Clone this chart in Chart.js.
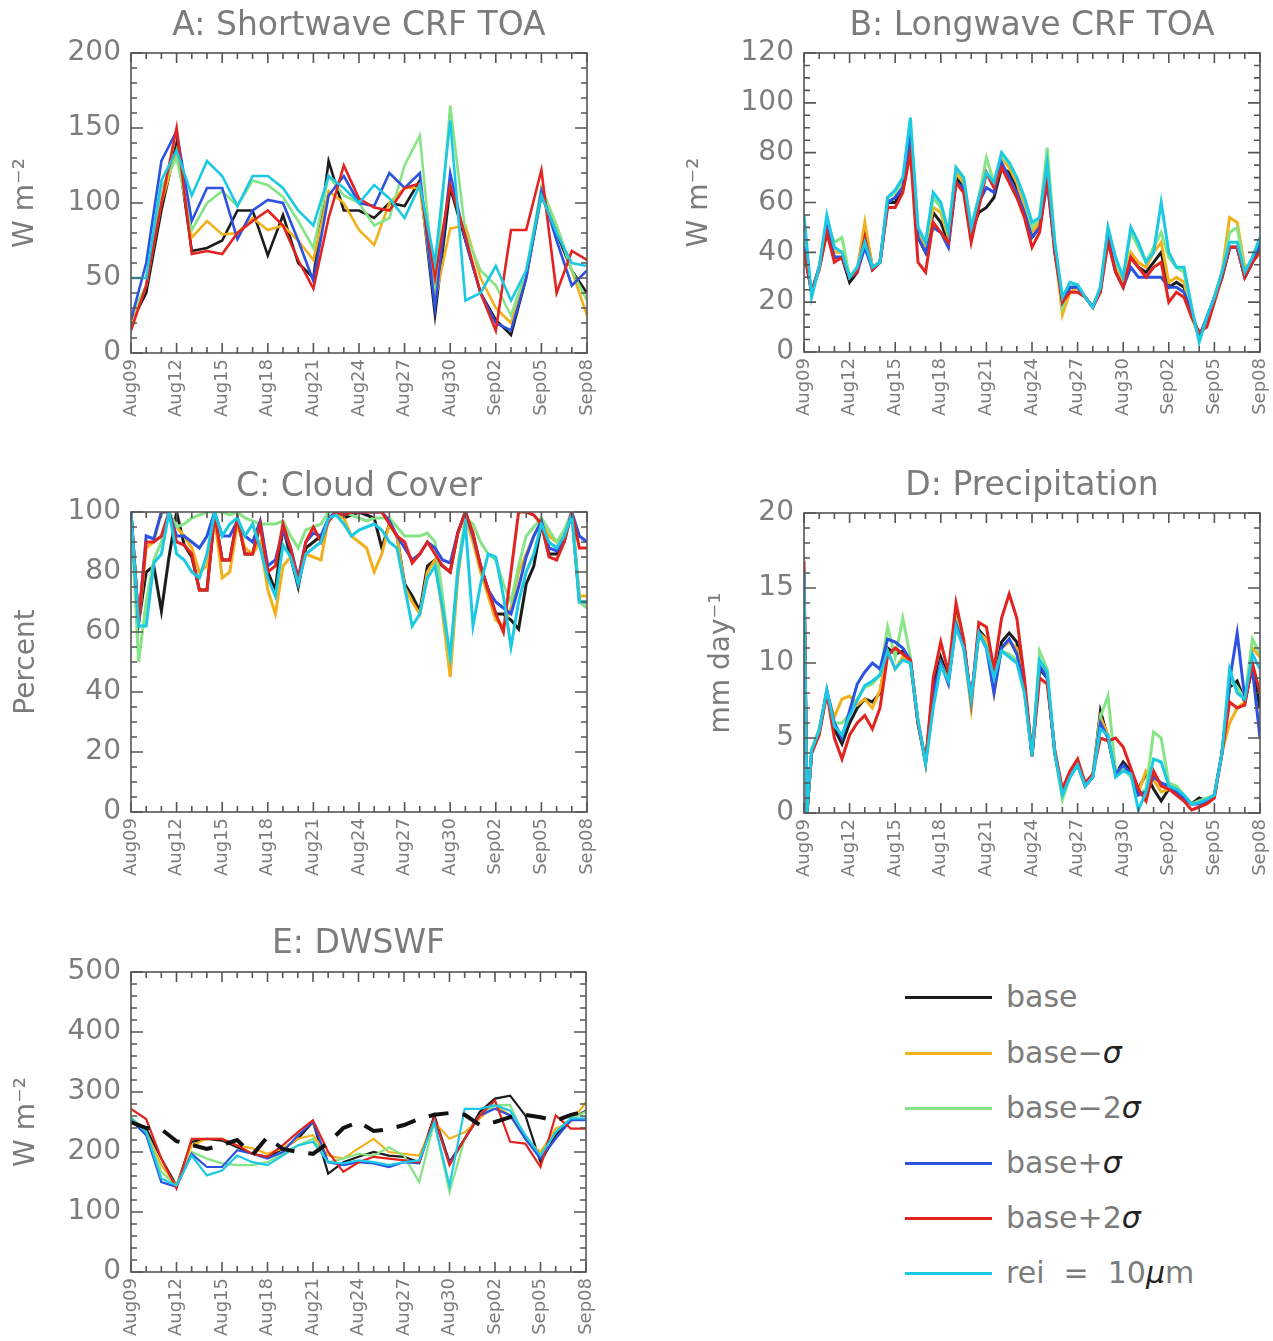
<!DOCTYPE html>
<html>
<head>
<meta charset="utf-8">
<script src="https://cdn.jsdelivr.net/npm/chart.js@4.4.1/dist/chart.umd.min.js"></script>
<style>
html,body{margin:0;padding:0;background:#fff;}
#wrap{position:relative;width:1273px;height:1341px;overflow:hidden;background:#fff;font-family:'DejaVu Sans',sans-serif;}
.panel{position:absolute;}
.panel canvas{display:block;}
.legrow{position:absolute;left:905px;height:40px;display:flex;align-items:center;}
.legline{width:87px;height:3px;margin-right:14px;}
.legtext{font-size:30px;color:#7c7c7c;white-space:pre;line-height:40px;}
.legtext i{color:#222;font-style:italic;}
</style>
</head>
<body>
<div id="wrap">
  <div class="panel" style="left:0px;top:0px;"><canvas id="cA" width="600" height="440"></canvas></div>
  <div class="panel" style="left:640px;top:0px;"><canvas id="cB" width="633" height="440"></canvas></div>
  <div class="panel" style="left:0px;top:460px;"><canvas id="cC" width="600" height="440"></canvas></div>
  <div class="panel" style="left:640px;top:460px;"><canvas id="cD" width="633" height="440"></canvas></div>
  <div class="panel" style="left:0px;top:920px;"><canvas id="cE" width="600" height="421"></canvas></div>
  <div id="legend"></div>
</div>
<script>
// ---------------- data ----------------
const xTickLabels = ['Aug09','Aug12','Aug15','Aug18','Aug21','Aug24','Aug27','Aug30','Sep02','Sep05','Sep08'];
const seriesNames = ['base','base\u2212\u03c3','base\u22122\u03c3','base+\u03c3','base+2\u03c3','rei  =  10\u03bcm'];
const seriesColors = ['#1c1c1c','#f2b11c','#86e486','#2c52e2','#e2231f','#1cc9e4'];

// sample times (days since Aug09)
const dailyTimes = Array.from({length:31},(_,i)=>i);
const halfDayTimes = Array.from({length:61},(_,i)=>i/2);
const precipTimes = [0,0.2].concat(halfDayTimes.slice(1));

// A: Shortwave CRF TOA (daily)
const swBase   = [20,40,95,140,68,70,75,95,95,65,92,60,50,128,95,95,90,100,98,115,25,110,75,40,22,12,50,105,80,55,40];
const swMinus1 = [18,45,100,135,77,88,79,80,90,82,85,75,62,108,100,82,72,100,110,110,35,83,85,50,30,20,50,110,85,55,25];
const swMinus2 = [25,45,110,130,82,100,108,98,115,112,104,88,70,118,105,100,85,90,125,145,40,165,80,55,45,25,55,110,85,55,35];
const swPlus1  = [22,60,128,148,88,110,110,76,95,102,100,75,48,105,118,100,98,120,110,120,30,120,75,40,20,15,50,108,75,45,55];
const swPlus2  = [15,45,100,150,66,68,66,80,88,95,85,62,43,90,125,103,97,95,110,113,50,112,78,40,15,82,82,122,40,68,62];
const swRei    = [50,50,115,135,105,128,118,98,118,118,110,95,85,118,110,100,112,103,90,112,60,155,35,40,58,35,55,105,80,60,58];

// B: Longwave CRF TOA (half-daily)
const lwBase   = [42,24,34,48,38,38,28,32,50,34, 36,60,60,66,86,46,40,56,52,44, 70,66,48,56,58,62,74,72,66,56, 46,50,72,40,20,26,26,22,18,25, 46,34,27,38,34,32,36,40,26,28, 26,16,6,12,22,30,42,42,30,36, 42];
const lwMinus1 = [44,24,34,50,40,40,30,33,52,34, 36,60,62,68,88,48,42,58,56,46, 72,68,50,60,72,66,78,74,68,58, 48,52,74,42,15,24,26,22,18,25, 48,34,28,40,36,34,40,44,28,30, 28,14,6,12,22,32,54,52,34,36, 44];
const lwMinus2 = [44,24,34,52,44,46,30,33,46,34, 36,62,64,68,90,50,44,62,58,48, 74,70,50,62,78,68,78,76,70,62, 50,54,82,44,18,26,27,22,18,26, 50,36,30,48,42,36,42,48,38,34, 32,16,6,13,22,32,48,50,32,38, 44];
const lwPlus1  = [42,24,34,50,38,38,30,32,42,33, 36,60,62,66,86,46,40,50,48,42, 68,66,48,60,66,64,76,70,64,56, 46,50,68,42,20,26,26,22,18,25, 46,32,26,34,30,30,30,30,26,26, 24,16,6,14,22,30,42,42,30,36, 44];
const lwPlus2  = [40,24,33,48,36,38,30,32,46,33, 36,58,58,64,80,36,32,52,48,44, 68,64,44,58,72,66,74,68,62,54, 42,48,70,40,20,24,24,22,18,24, 44,32,26,38,34,30,34,36,20,24, 22,14,8,10,20,30,42,42,30,36, 40];
const lwRei    = [55,22,34,55,42,40,30,34,44,34, 36,62,65,70,94,50,44,64,60,48, 74,70,50,62,72,68,80,76,70,62, 52,54,76,44,22,28,27,22,18,26, 50,38,30,50,44,36,40,60,40,34, 34,18,4,14,22,32,44,44,32,38, 46];

// C: Cloud Cover (half-daily)
const ccBase   = [100,63,80,82,67,85,100,89,85,74, 74,99,84,84,98,86,86,96,80,74, 95,85,75,88,90,92,97,100,98,99, 100,99,98,88,96,92,76,72,67,82, 84,82,80,93,100,92,82,74,66,66, 64,61,76,82,96,86,86,92,100,70, 70];
const ccMinus1 = [100,63,88,90,100,100,95,92,88,80, 82,98,78,80,96,88,86,90,74,66, 82,85,78,86,85,84,98,99,98,92, 90,88,80,86,96,92,75,70,66,80, 84,66,45,78,98,90,80,72,64,62, 68,80,86,92,97,92,90,92,99,72, 72];
const ccMinus2 = [100,50,70,84,90,100,95,96,98,99, 100,100,100,99,100,98,97,96,96,96, 97,92,88,94,95,96,100,100,100,99, 98,97,98,98,98,95,92,92,92,93, 90,72,50,82,98,96,90,86,84,76, 70,82,92,95,98,94,90,94,100,70, 68];
const ccPlus1  = [100,63,92,91,100,100,92,92,90,88, 92,100,92,92,97,92,90,97,82,84, 94,88,78,90,93,92,98,100,99,100, 100,100,100,100,97,92,88,84,86,90, 88,84,83,93,100,92,82,74,70,68, 66,75,85,92,97,88,87,90,100,92, 90];
const ccPlus2  = [100,64,90,90,92,100,90,89,86,74, 74,99,84,84,98,86,86,96,80,82, 96,88,77,90,95,90,97,100,99,100, 100,100,100,100,96,92,90,83,86,90, 86,82,80,93,100,93,82,74,66,60, 80,100,100,99,96,85,84,90,100,88, 88];
const ccRei    = [100,62,62,83,86,100,86,84,80,78, 86,100,92,96,98,92,96,88,78,72, 89,85,76,86,88,90,98,99,96,92, 94,95,96,94,90,88,75,62,66,78, 82,68,52,80,96,62,76,86,85,72, 55,70,80,86,96,90,88,92,99,70, 70];

// D: Precipitation
const prBase   = [16,0,4.0,5.4,8.0,5.6,4.6,6.0,7.0,7.6,7.4,8.0,11.0,10.6,10.8,10.2,6.0,3.4,8.4,10.4,9.0,13.2,11.4,7.4,12.2,11.6,8.8,11.4,12.0,11.4,8.6,3.8,9.6,9.0,4.0,1.4,2.6,3.4,1.8,2.4,6.8,5.0,2.6,3.4,2.8,1.6,2.6,1.6,0.8,1.6,1.4,1.0,0.6,1.0,0.8,1.2,4.0,8.4,8.8,7.4,9.8,7.0];
const prMinus1 = [16,0,4.2,5.6,8.0,6.4,7.6,7.8,7.2,7.6,7.0,8.2,10.8,9.6,10.4,10.0,6.2,3.4,7.6,10.0,8.8,13.0,11.2,7.0,12.0,11.6,8.0,11.0,11.4,11.0,8.4,3.8,9.8,9.2,4.0,1.2,2.6,3.4,1.8,2.4,6.4,5.2,2.6,3.0,2.6,1.4,2.8,2.2,1.4,1.6,1.4,1.0,0.6,0.8,0.8,1.2,4.0,6.0,7.0,7.4,11.0,10.4];
const prMinus2 = [16,0,4.2,5.6,8.0,6.0,6.0,6.6,7.6,8.4,8.6,9.2,12.4,10.4,13.0,10.4,6.0,3.2,7.2,10.0,8.8,12.8,11.0,7.2,12.0,11.2,9.0,10.8,10.6,10.2,8.2,3.8,10.8,9.6,4.0,0.9,2.4,3.2,1.8,2.6,6.4,7.8,2.8,3.0,2.4,1.2,1.6,5.4,5.0,2.0,1.8,1.2,0.6,0.8,1.0,1.2,4.0,8.8,8.4,7.6,11.6,10.6];
const prPlus1  = [16,0,4.0,5.4,8.2,6.0,5.0,6.8,8.6,9.4,10.0,9.6,11.6,11.4,11.0,10.2,6.0,3.4,8.0,10.0,8.6,12.6,11.2,7.6,12.0,11.0,8.0,11.0,11.6,10.6,8.4,3.8,9.8,9.0,4.0,1.4,2.4,3.2,1.8,2.4,6.0,5.0,2.6,3.2,2.6,1.2,1.4,2.4,2.0,1.8,1.4,1.0,0.6,0.6,0.8,1.2,4.0,8.8,12.0,7.6,9.6,5.0];
const prPlus2  = [16.8,0,4.0,5.2,8.0,5.0,3.6,5.2,6.0,6.5,5.6,7.0,10.5,11.0,10.6,10.2,6.0,3.4,9.0,11.4,9.4,14.0,11.6,7.4,12.7,12.4,9.6,13.0,14.6,13.0,9.0,3.8,9.0,8.6,4.2,1.6,2.8,3.6,2.0,2.6,5.0,4.8,5.0,4.4,3.0,1.6,0.8,2.8,1.8,1.6,1.2,0.8,0.2,0.4,0.6,1.0,4.0,7.4,7.0,7.2,10.0,8.0];
const prRei    = [16,0,4.2,5.5,8.2,5.8,5.2,6.5,7.5,8.5,8.8,9.2,10.8,9.6,10.2,10.0,6.2,3.3,7.0,9.8,8.8,12.4,11.0,7.6,12.0,11.0,9.0,10.8,10.4,10.0,8.0,3.8,10.2,9.4,4.0,1.2,2.4,3.2,1.8,2.4,5.6,5.2,2.4,2.8,2.6,0.2,1.4,3.6,3.4,1.8,1.6,1.2,0.6,0.7,0.9,1.2,4.0,9.6,8.0,7.6,10.6,9.6];

// E: DWSWF (daily)
const dwBase   = [250,239,189,144,217,222,219,208,197,192,205,222,250,164,183,192,200,194,192,183,261,183,222,267,289,294,261,183,228,255,269];
const dwMinus1 = [256,233,178,144,211,222,222,211,206,197,206,222,228,194,189,206,222,200,197,194,250,222,233,256,278,261,222,200,239,250,283];
const dwMinus2 = [258,233,167,144,200,189,181,178,178,183,197,211,222,183,189,197,194,208,194,150,250,133,222,261,278,278,222,194,233,256,267];
const dwPlus1  = [253,228,150,142,197,175,175,203,197,189,200,228,250,183,178,183,181,175,183,181,256,181,222,261,272,261,222,189,222,253,253];
const dwPlus2  = [272,255,189,139,222,222,222,211,197,192,211,233,253,200,167,183,192,189,186,183,258,178,222,261,286,217,214,175,261,239,239];
const dwRei    = [256,233,156,144,194,161,169,194,183,178,194,211,217,183,181,186,183,178,183,186,250,144,272,272,278,269,228,194,233,256,256];
const dwObs    = [250,240,238,218,212,205,212,220,195,225,205,200,197,215,240,250,235,238,245,255,262,265,262,245,250,258,262,258,252,262,268];

// ---------------- drawing ----------------
const AXIS = '#555555';
const TEXT = '#7c7c7c';
const FONT = "'DejaVu Sans', sans-serif";

const boxTicks = {
  id: 'boxTicks',
  afterDatasetsDraw(chart, args, opts) {
    const {ctx, chartArea: a} = chart;
    const xs = chart.scales.x, ys = chart.scales.y;
    ctx.save();
    ctx.strokeStyle = AXIS;
    ctx.lineWidth = 1.6;
    ctx.beginPath();
    for (let v = Math.round(xs.min); v <= xs.max + 1e-6; v += 1) {
      const p = xs.getPixelForValue(v);
      const len = (v % 3 === 0) ? 10 : 6;
      ctx.moveTo(p, a.bottom); ctx.lineTo(p, a.bottom - len);
      ctx.moveTo(p, a.top); ctx.lineTo(p, a.top + len);
    }
    const n = Math.round((ys.max - ys.min) / opts.minor);
    for (let k = 0; k <= n; k++) {
      const p = ys.getPixelForValue(ys.min + k * opts.minor);
      const len = (k % opts.per === 0) ? 12 : 6;
      ctx.moveTo(a.left, p); ctx.lineTo(a.left + len, p);
      ctx.moveTo(a.right, p); ctx.lineTo(a.right - len, p);
    }
    ctx.stroke();
    ctx.strokeRect(a.left, a.top, a.right - a.left, a.bottom - a.top);
    ctx.restore();
  }
};

function makePanel(cfg) {
  const datasets = [];
  if (cfg.extra) datasets.push(cfg.extra);
  for (let i = seriesNames.length - 1; i >= 0; i--) {
    datasets.push({
      label: seriesNames[i],
      data: cfg.series[i].map((v, k) => ({x: cfg.times[k], y: v})),
      borderColor: seriesColors[i],
      backgroundColor: seriesColors[i],
      borderWidth: cfg.lw,
      pointRadius: 0,
      tension: 0,
      fill: false
    });
  }
  new Chart(document.getElementById(cfg.id), {
    type: 'line',
    data: {datasets},
    plugins: [boxTicks],
    options: {
      responsive: false,
      animation: false,
      events: [],
      layout: {padding: {left: 0, right: cfg.padRight, top: 0, bottom: 0}},
      plugins: {
        legend: {display: false},
        tooltip: {enabled: false},
        title: {
          display: true, text: cfg.title, fullSize: false, color: TEXT,
          font: {family: FONT, size: 33, weight: 'normal'},
          padding: {top: cfg.tTop, bottom: cfg.tBottom}
        },
        boxTicks: {minor: cfg.yMinor, per: cfg.yStep / cfg.yMinor}
      },
      scales: {
        x: {
          type: 'linear', min: 0, max: 30,
          afterFit: (s) => { s.height = cfg.xH; s.paddingLeft = 0; s.paddingRight = 0; },
          grid: {display: false, drawTicks: false},
          border: {display: false},
          ticks: {
            stepSize: 3, autoSkip: false, minRotation: 90, maxRotation: 90, padding: 6,
            color: TEXT, font: {family: FONT, size: 18},
            callback: (v) => xTickLabels[Math.round(v / 3)]
          }
        },
        y: {
          type: 'linear', min: 0, max: cfg.yMax,
          afterFit: (s) => { s.width = cfg.yW; s.paddingTop = 0; s.paddingBottom = 0; },
          grid: {display: false, drawTicks: false},
          border: {display: false},
          ticks: {stepSize: cfg.yStep, padding: 10, color: TEXT, font: {family: FONT, size: 28}},
          title: {
            display: true, text: cfg.yTitle, color: TEXT,
            font: {family: FONT, size: 28},
            padding: {top: cfg.yTitlePad, bottom: 0}
          }
        }
      }
    }
  });
}

makePanel({id: 'cA', title: 'A: Shortwave CRF TOA', yTitle: 'W m\u207b\u00b2',
  times: dailyTimes, series: [swBase, swMinus1, swMinus2, swPlus1, swPlus2, swRei],
  yMax: 200, yStep: 50, yMinor: 10, yW: 131, padRight: 13, xH: 87, tTop: 7, tBottom: 6.4, yTitlePad: 9, lw: 2.6});

makePanel({id: 'cB', title: 'B: Longwave CRF TOA', yTitle: 'W m\u207b\u00b2',
  times: halfDayTimes, series: [lwBase, lwMinus1, lwMinus2, lwPlus1, lwPlus2, lwRei],
  yMax: 120, yStep: 20, yMinor: 5, yW: 164, padRight: 13, xH: 88, tTop: 7, tBottom: 6.4, yTitlePad: 43, lw: 3});

makePanel({id: 'cC', title: 'C: Cloud Cover', yTitle: 'Percent',
  times: halfDayTimes, series: [ccBase, ccMinus1, ccMinus2, ccPlus1, ccPlus2, ccRei],
  yMax: 100, yStep: 20, yMinor: 5, yW: 131, padRight: 13, xH: 88, tTop: 8, tBottom: 4.4, yTitlePad: 10, lw: 3});

makePanel({id: 'cD', title: 'D: Precipitation', yTitle: 'mm day\u207b\u00b9',
  times: precipTimes, series: [prBase, prMinus1, prMinus2, prPlus1, prPlus2, prRei],
  yMax: 20, yStep: 5, yMinor: 1, yW: 164, padRight: 13, xH: 87, tTop: 7, tBottom: 6.4, yTitlePad: 65, lw: 3});

makePanel({id: 'cE', title: 'E: DWSWF', yTitle: 'W m\u207b\u00b2',
  times: dailyTimes, series: [dwBase, dwMinus1, dwMinus2, dwPlus1, dwPlus2, dwRei],
  yMax: 500, yStep: 100, yMinor: 20, yW: 131, padRight: 14, xH: 69, tTop: 5, tBottom: 7.4, yTitlePad: 10, lw: 2.2,
  extra: {
    label: 'observed',
    data: dwObs.map((v, k) => ({x: dailyTimes[k], y: v})),
    borderColor: '#111111', borderWidth: 4, borderDash: [20, 14],
    pointRadius: 0, tension: 0, fill: false
  }});

// legend (HTML text)
const legend = document.getElementById('legend');
const legendRowY = [997, 1053, 1108, 1163, 1218, 1273];
seriesNames.forEach((name, i) => {
  const row = document.createElement('div');
  row.className = 'legrow';
  row.style.top = (legendRowY[i] - 20) + 'px';
  const line = document.createElement('div');
  line.className = 'legline';
  line.style.background = seriesColors[i];
  const txt = document.createElement('span');
  txt.className = 'legtext';
  txt.innerHTML = name.replace(/\u03c3/g, '<i>\u03c3</i>').replace(/\u03bc/g, '<i>\u03bc</i>');
  row.appendChild(line);
  row.appendChild(txt);
  legend.appendChild(row);
});
</script>
</body>
</html>
